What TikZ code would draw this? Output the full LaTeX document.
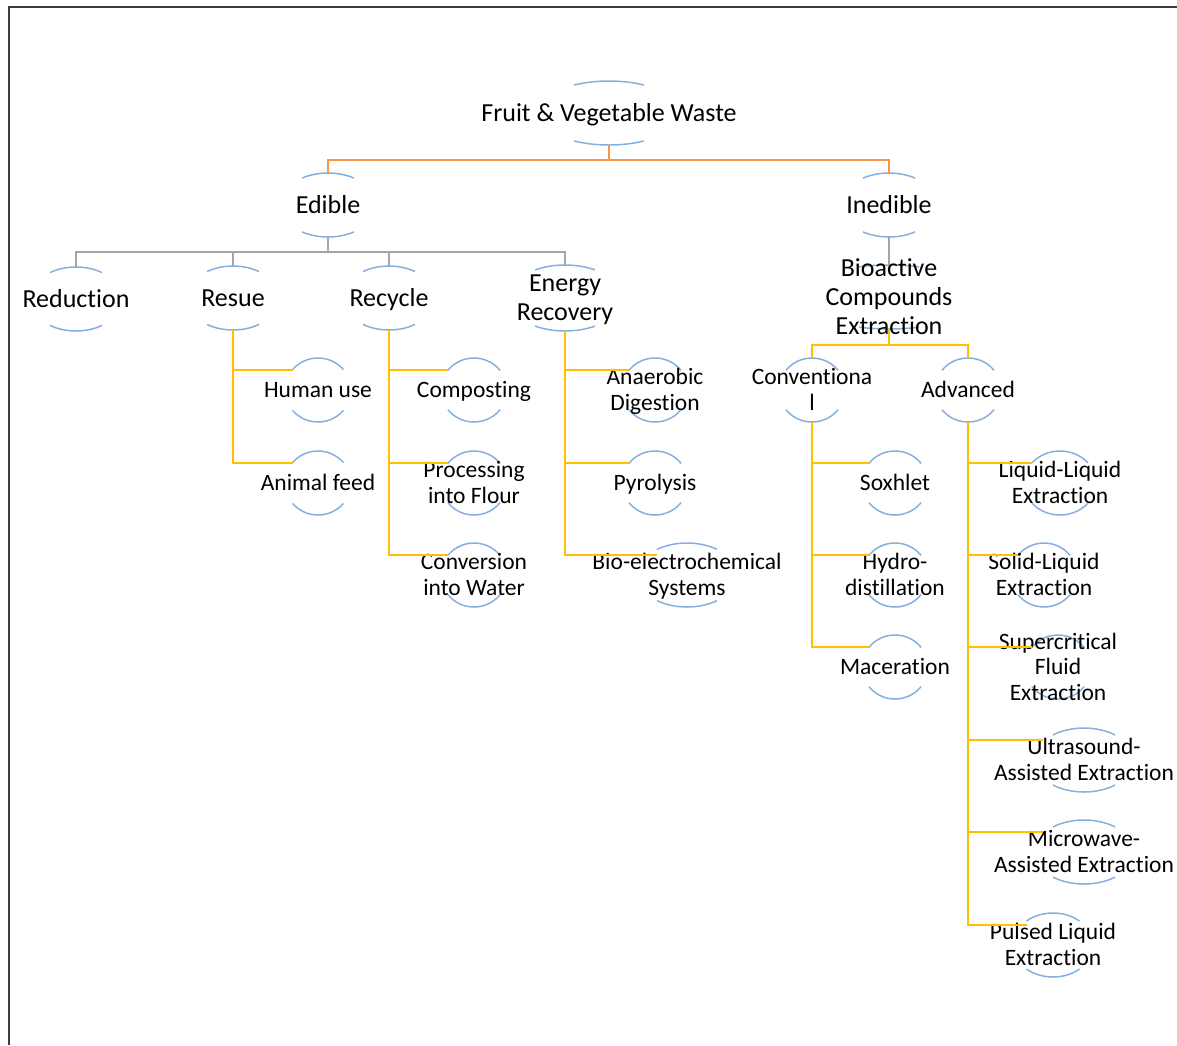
\documentclass[tikz,border=0pt]{standalone}
\usepackage{fontspec}
\setmainfont{Carlito}[Ligatures=NoCommon]
\usetikzlibrary{calc}
\definecolor{arcblue}{RGB}{135,175,222}
\definecolor{orangeln}{RGB}{247,150,70}
\definecolor{goldln}{RGB}{255,192,0}
\definecolor{grayln}{RGB}{166,166,166}
\definecolor{framec}{RGB}{60,60,60}
\tikzset{
  box/.style={shape=rectangle, inner sep=0pt, outer sep=0pt},
  arcst/.style={draw=arcblue, line width=1.5pt},
  bigtxt/.style={font=\fontsize{26}{29}\selectfont, align=center, inner sep=0pt, yshift=-2.5pt},
  smalltxt/.style={font=\fontsize{23.5}{25.5}\selectfont, align=center, inner sep=0pt, yshift=-2.5pt},
  oconn/.style={draw=orangeln, line width=2pt},
  gconn/.style={draw=goldln, line width=2pt},
  grconn/.style={draw=grayln, line width=2pt},
}
% name, x, y, rx, ry, w, textstyle, text
\newcommand\blob[8]{%
  \pgfmathsetmacro\tA{acos(#6/#4)}%
  \node[box, minimum width=#6*2pt, minimum height=#5*2pt] (#1) at (#2,#3) {};
  \draw[arcst] (#1.center) ++(\tA:#4pt and #5pt) arc[start angle=\tA, end angle=180-\tA, x radius=#4pt, y radius=#5pt];
  \draw[arcst] (#1.center) ++(-\tA:#4pt and #5pt) arc[start angle=-\tA, end angle=-180+\tA, x radius=#4pt, y radius=#5pt];
  \node[#7] (#1-t) at (#1.center) {#8};
}
\begin{document}
\begin{tikzpicture}[x=1pt, y=1pt]
\useasboundingbox (0,0) rectangle (1177,-1045);
% frame
\draw[framec, line width=2pt] (9,-1045) -- (9,-7) -- (1177,-7);

% level 0 and 1
\blob{fvw}{609}{-113}{72}{32}{35}{bigtxt}{\strut Fruit \& Vegetable Waste}
\blob{edible}{328}{-205}{48}{32}{26}{bigtxt}{\strut Edible}
\blob{inedible}{889}{-205}{48}{32}{26}{bigtxt}{\strut Inedible}

\blob{reduction}{76}{-299}{46}{32}{26}{bigtxt}{\strut Reduction}
\blob{resue}{233}{-298}{46}{32}{26}{bigtxt}{\strut Resue}
\blob{recycle}{389}{-298}{46}{32}{26}{bigtxt}{\strut Recycle}
\blob{energy}{565}{-298}{57}{33}{30}{bigtxt}{\strut Energy\\\strut Recovery}
\blob{bioactive}{889}{-297}{90}{32}{30}{bigtxt}{\strut Bioactive\\\strut Compounds\\\strut Extraction}

\blob{conv}{812}{-390}{33}{32}{26}{smalltxt}{\strut Conventiona\\\strut l}
\blob{adv}{968}{-390}{33}{32}{26}{smalltxt}{\strut Advanced}

% leaves
\blob{human}{318}{-390}{33}{32}{25.5}{smalltxt}{\strut Human use}
\blob{animal}{318}{-483}{33}{32}{25.5}{smalltxt}{\strut Animal feed}

\blob{compost}{474}{-390}{33}{32}{26}{smalltxt}{\strut Composting}
\blob{flour}{474}{-483}{33}{32}{26}{smalltxt}{\strut Processing\\\strut into Flour}
\blob{water}{474}{-575}{33}{32}{26}{smalltxt}{\strut Conversion\\\strut into Water}

\blob{anaer}{655}{-390}{33}{32}{26}{smalltxt}{\strut Anaerobic\\\strut Digestion}
\blob{pyro}{655}{-483}{33}{32}{26}{smalltxt}{\strut Pyrolysis}
\blob{bioel}{687}{-575}{50}{32}{30}{smalltxt}{\strut Bio-electrochemical\\\strut Systems}

\blob{soxhlet}{895}{-483}{33}{32}{26}{smalltxt}{\strut Soxhlet}
\blob{hydro}{895}{-575}{33}{32}{26}{smalltxt}{\strut Hydro-\\\strut distillation}
\blob{macer}{895}{-667}{33}{32}{26}{smalltxt}{\strut Maceration}

\blob{ll}{1060}{-483}{36}{32}{28}{smalltxt}{\strut Liquid-Liquid\\\strut Extraction}
\blob{sl}{1044}{-575}{33}{32}{26}{smalltxt}{\strut Solid-Liquid\\\strut Extraction}
\blob{sc}{1058}{-667}{33}{32}{26}{smalltxt}{\strut Supercritical\\\strut Fluid\\\strut Extraction}
\blob{us}{1084}{-760}{50}{32}{31}{smalltxt}{\strut Ultrasound-\\\strut Assisted Extraction}
\blob{mw}{1084}{-852}{50}{32}{31}{smalltxt}{\strut Microwave-\\\strut Assisted Extraction}
\blob{pl}{1053}{-945}{40}{32}{26.5}{smalltxt}{\strut Pulsed Liquid\\\strut Extraction}

% connectors level 0 -> 1
\draw[oconn] (fvw.south) -- ++(0,-15) -| (edible.north);
\draw[oconn] (fvw.south) -- ++(0,-15) -| (inedible.north);
% edible -> children
\draw[grconn] (edible.south) -- ++(0,-15) -| (reduction.north);
\draw[grconn] (edible.south) -- ++(0,-15) -| (resue.north);
\draw[grconn] (edible.south) -- ++(0,-15) -| (recycle.north);
\draw[grconn] (edible.south) -- ++(0,-15) -| (energy.north);
% inedible -> bioactive
\draw[grconn] (inedible.south) -- (bioactive.north);
% bioactive -> conv/adv
\draw[gconn] (bioactive.south) -- ++(0,-16) -| (conv.north);
\draw[gconn] (bioactive.south) -- ++(0,-16) -| (adv.north);

% branches
\foreach \p/\c in {resue/human, resue/animal,
                   recycle/compost, recycle/flour, recycle/water,
                   energy/anaer, energy/pyro, energy/bioel,
                   conv/soxhlet, conv/hydro, conv/macer,
                   adv/ll, adv/sl, adv/sc, adv/pl}
  \draw[gconn] (\p.south) |- ([yshift=20pt]\c.west);
\draw[gconn] (adv.south) |- ([shift={(-10pt,20pt)}]us.west);
\draw[gconn] (adv.south) |- ([shift={(-10pt,20pt)}]mw.west);
\end{tikzpicture}
\end{document}
